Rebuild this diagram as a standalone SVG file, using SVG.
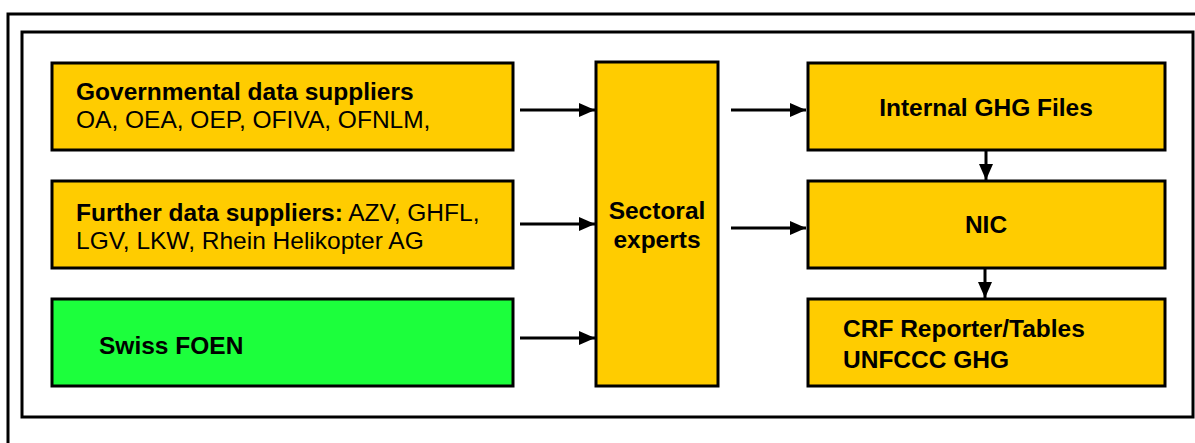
<svg xmlns="http://www.w3.org/2000/svg" width="1195" height="443" viewBox="0 0 1195 443">
<style>
.frame{fill:none;stroke:#000;stroke-width:3}
.box{fill:#FFCC00;stroke:#000;stroke-width:3}
.green{fill:#1CFF3C;stroke:#000;stroke-width:3}
text{font-family:"Liberation Sans",Arial,sans-serif;font-size:24.5px;fill:#000}
.b{font-weight:bold}
.c{text-anchor:middle}
.conn line{stroke:#000;stroke-width:3}
</style>
<defs>
<marker id="ah" viewBox="0 0 16 14" refX="16" refY="7" markerWidth="16" markerHeight="14" markerUnits="userSpaceOnUse" orient="auto">
<path d="M0,0 L16,7 L0,14 Z" fill="#000"/>
</marker>
</defs>
<rect id="outer-frame" class="frame" x="8" y="14" width="1200" height="440"/>
<rect id="inner-frame" class="frame" x="22" y="32" width="1171" height="385"/>
<g id="gov">
<rect class="box" x="52" y="63" width="461" height="87"/>
<text class="b" x="76" y="100">Governmental data suppliers</text>
<text x="76" y="128">OA, OEA, OEP, OFIVA, OFNLM,</text>
</g>
<g id="further">
<rect class="box" x="52" y="181" width="461" height="87"/>
<text x="76" y="221"><tspan class="b">Further data suppliers:</tspan> AZV, GHFL,</text>
<text x="76" y="249">LGV, LKW, Rhein Helikopter AG</text>
</g>
<g id="foen">
<rect class="green" x="52" y="299" width="461" height="87"/>
<text class="b" x="99" y="354">Swiss FOEN</text>
</g>
<g id="sectoral">
<rect class="box" x="596" y="62" width="122" height="324"/>
<text class="b c" x="657" y="219">Sectoral</text>
<text class="b c" x="657" y="248">experts</text>
</g>
<g id="internal">
<rect class="box" x="808" y="63" width="357" height="87"/>
<text class="b c" x="986" y="116">Internal GHG Files</text>
</g>
<g id="nic">
<rect class="box" x="808" y="181" width="357" height="87"/>
<text class="b c" x="986" y="233">NIC</text>
</g>
<g id="crf">
<rect class="box" x="808" y="299" width="357" height="87"/>
<text class="b" x="843" y="337">CRF Reporter/Tables</text>
<text class="b" x="843" y="368">UNFCCC GHG</text>
</g>
<g id="connectors" class="conn">
<line x1="520" y1="110" x2="595" y2="110" marker-end="url(#ah)"/>
<line x1="520" y1="224" x2="595" y2="224" marker-end="url(#ah)"/>
<line x1="520" y1="338" x2="595" y2="338" marker-end="url(#ah)"/>
<line x1="731" y1="110" x2="806" y2="110" marker-end="url(#ah)"/>
<line x1="731" y1="228" x2="806" y2="228" marker-end="url(#ah)"/>
<line x1="986" y1="151" x2="986" y2="180" marker-end="url(#ah)"/>
<line x1="985" y1="269" x2="985" y2="298" marker-end="url(#ah)"/>
</g>
</svg>
